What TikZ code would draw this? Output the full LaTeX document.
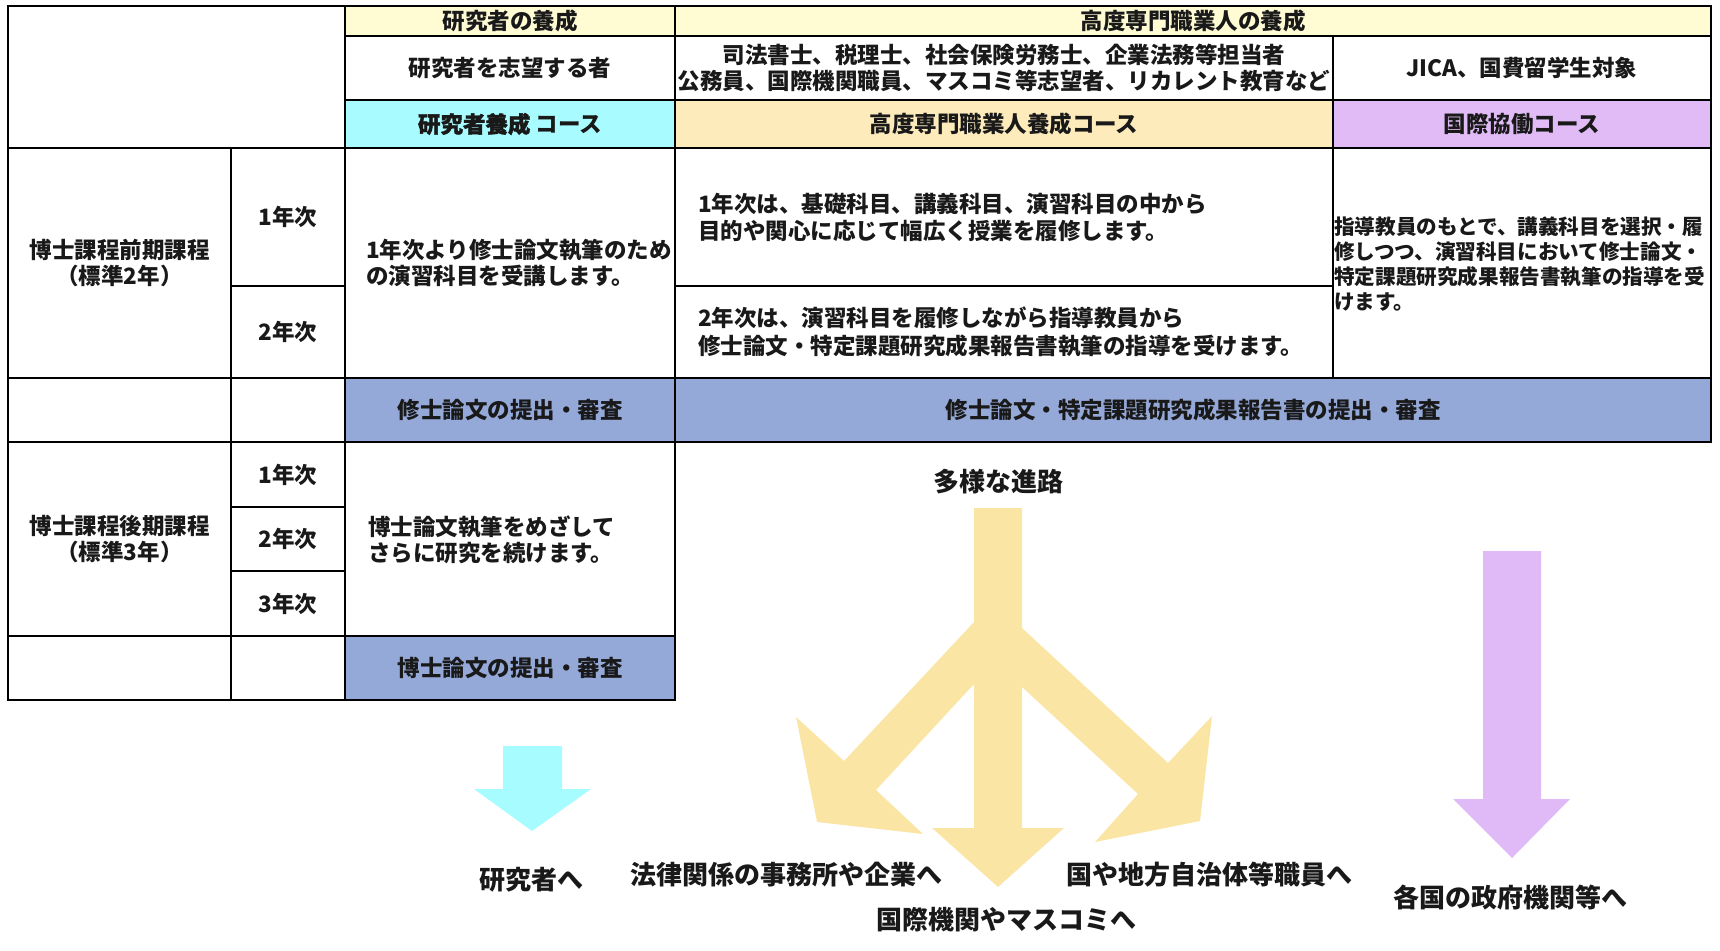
\documentclass[tikz,border=0pt]{standalone}
\usepackage{fontspec}
\setmainfont{Noto Sans CJK JP}
\newfontfamily\heavyfont{Noto Sans CJK JP}[BoldFeatures={FakeBold=1.6}]
\definecolor{hdryel}{HTML}{FFFBD3}
\definecolor{crscyan}{HTML}{A8FCFF}
\definecolor{crsorange}{HTML}{FDEBBB}
\definecolor{crslav}{HTML}{E0BBF5}
\definecolor{subblue}{HTML}{95A9D9}
\definecolor{arryel}{HTML}{FAE5A4}
\definecolor{arrcyan}{HTML}{A6FCFF}
\definecolor{arrlav}{HTML}{E0BAF6}
\newcommand\tabfont{\fontsize{22.5}{26}\selectfont\bfseries}
\newcommand\smallfont{\fontsize{20.6}{25}\selectfont\bfseries}
\newcommand\lblfont{\fontsize{26}{30}\selectfont\bfseries}
\newcommand\mycell[7]{\node[tbl,fill=#6,minimum width={#3-#1},minimum height={#4-#2}] (#7) at ({(#1+#3)/2},{(#2+#4)/2}) {#5};}
\tikzset{
  tbl/.style={draw=black, line width=1.8pt, inner sep=0pt, outer sep=0pt, rectangle, font=\tabfont, align=center, text=black!90},
  lefttext/.style={anchor=west, align=left, inner sep=0pt, font=\tabfont, text=black!90},
  lbl/.style={font=\lblfont, inner sep=0pt, text=black!90},
}
\begin{document}
\begin{tikzpicture}[x=1pt,y=-1pt]
\useasboundingbox (0,0) rectangle (1720,950);
% top block
\mycell{8}{6}{345}{148}{}{white}{topleft}
\mycell{345}{6}{675}{36}{研究者の養成}{hdryel}{hdrA}
\mycell{675}{6}{1711}{36}{高度専門職業人の養成}{hdryel}{hdrB}
\mycell{345}{36}{675}{100}{研究者を志望する者}{white}{tgtA}
\mycell{675}{36}{1333}{100}{司法書士、税理士、社会保険労務士、企業法務等担当者\\[-0.5pt]公務員、国際機関職員、マスコミ等志望者、リカレント教育など}{white}{tgtB}
\mycell{1333}{36}{1711}{100}{JICA、国費留学生対象}{white}{tgtC}
\mycell{345}{100}{675}{148}{{\heavyfont\bfseries 研究者養成} コース}{crscyan}{crsA}
\mycell{675}{100}{1333}{148}{高度専門職業人養成コース}{crsorange}{crsB}
\mycell{1333}{100}{1711}{148}{国際協働コース}{crslav}{crsC}
% master program
\mycell{8}{148}{231}{378}{博士課程前期課程\\（標準2年）}{white}{mProg}
\mycell{231}{148}{345}{286}{1年次}{white}{mY1}
\mycell{231}{286}{345}{378}{2年次}{white}{mY2}
\mycell{345}{148}{675}{378}{}{white}{mA}
\mycell{675}{148}{1333}{286}{}{white}{mB1}
\mycell{675}{286}{1333}{378}{}{white}{mB2}
\mycell{1333}{148}{1711}{378}{}{white}{mC}
\node[lefttext] (mAt) at (366,263) {1年次より修士論文執筆のため\\の演習科目を受講します。};
\node[lefttext, font=\fontsize{22.5}{27}\selectfont\bfseries] (mB1t) at (698,217) {1年次は、基礎科目、講義科目、演習科目の中から\\目的や関心に応じて幅広く授業を履修します。};
\node[lefttext, font=\fontsize{22.5}{28}\selectfont\bfseries] (mB2t) at (698,332) {2年次は、演習科目を履修しながら指導教員から\\修士論文・特定課題研究成果報告書執筆の指導を受けます。};
\node[lefttext, font=\smallfont] (mCt) at (1334,264) {指導教員のもとで、講義科目を選択・履\\修しつつ、演習科目において修士論文・\\特定課題研究成果報告書執筆の指導を受\\けます。};
% master submission
\mycell{8}{378}{231}{442}{}{white}{s1L}
\mycell{231}{378}{345}{442}{}{white}{s1M}
\mycell{345}{378}{675}{442}{修士論文の提出・審査}{subblue}{s1A}
\mycell{675}{378}{1711}{442}{修士論文・特定課題研究成果報告書の提出・審査}{subblue}{s1B}
% doctoral program
\mycell{8}{442}{231}{636}{博士課程後期課程\\（標準3年）}{white}{dProg}
\mycell{231}{442}{345}{507}{1年次}{white}{dY1}
\mycell{231}{507}{345}{571}{2年次}{white}{dY2}
\mycell{231}{571}{345}{636}{3年次}{white}{dY3}
\mycell{345}{442}{675}{636}{}{white}{dA}
\node[lefttext] (dAt) at (368,540) {博士論文執筆をめざして\\さらに研究を続けます。};
\mycell{8}{636}{231}{700}{}{white}{s2L}
\mycell{231}{636}{345}{700}{}{white}{s2M}
\mycell{345}{636}{675}{700}{博士論文の提出・審査}{subblue}{s2A}
% arrows
\fill[arrcyan] (503,746) -- (562,746) -- (562,789) -- (591,789) -- (532,831) -- (474,789) -- (503,789) -- cycle;
\fill[arrlav] (1483,551) -- (1541,551) -- (1541,799) -- (1570,799) -- (1512,858) -- (1453,799) -- (1483,799) -- cycle;
\fill[arryel] (974,508) -- (974,622) -- (844,761) -- (796,717) -- (817,822) -- (923,834) -- (876,790) -- (974,684)
  -- (974,828) -- (932,828) -- (998,887) -- (1064,828) -- (1022,828) -- (1022,687) -- (1138,794) -- (1095,842)
  -- (1200,821) -- (1212,716) -- (1168,763) -- (1022,628) -- (1022,508) -- cycle;
% labels
\node[lbl] (tayo) at (998,482) {多様な進路};
\node[lbl] (kenk) at (531,880) {研究者へ};
\node[lbl] (hour) at (786,875) {法律関係の事務所や企業へ};
\node[lbl] (kuni) at (1209,875) {国や地方自治体等職員へ};
\node[lbl] (koku) at (1006,920) {国際機関やマスコミへ};
\node[lbl] (kaku) at (1510,898) {各国の政府機関等へ};
\end{tikzpicture}
\end{document}
